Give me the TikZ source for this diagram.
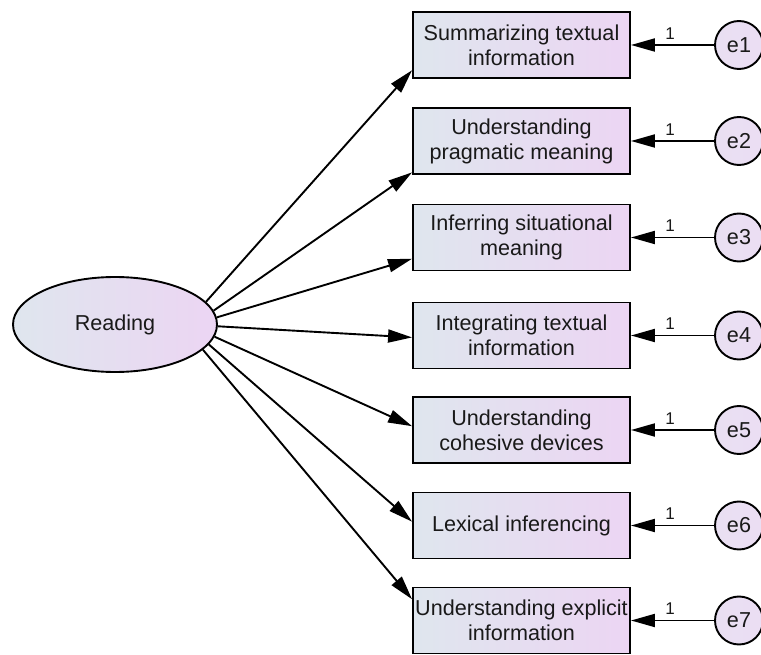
\documentclass[tikz,border=0pt]{standalone}
\usepackage{fontspec}
\setmainfont{Liberation Sans}
\usetikzlibrary{shapes.geometric,arrows.meta}
\definecolor{shL}{RGB}{223,230,238}
\definecolor{shR}{RGB}{236,213,243}
\definecolor{cfill}{RGB}{235,222,243}
\definecolor{txt}{RGB}{25,25,25}
\begin{document}
\begin{tikzpicture}[x=1pt,y=-1pt,
  obs/.style={draw=black, line width=1.9pt, rectangle, minimum width=217pt, minimum height=66pt,
    inner sep=0pt, left color=shL, right color=shR, align=center, text=txt,
    font=\fontsize{21.6}{25}\selectfont},
  lat/.style={draw=black, line width=1.9pt, ellipse, minimum width=204pt, minimum height=95pt,
    inner sep=0pt, left color=shL, right color=shR, text=txt, font=\fontsize{21.6}{25}\selectfont},
  err/.style={draw=black, line width=1.9pt, circle, minimum size=48pt, inner sep=0pt,
    left color=cfill!85!shL, right color=cfill, text=txt, font=\fontsize{21.6}{25}\selectfont},
  arr/.style={line width=1.9pt, -{Triangle[length=24pt,width=13pt]}},
  wt/.style={font=\fontsize{17}{19}\selectfont, text=txt, inner sep=1pt, above=4pt, pos=0.53}
]
\useasboundingbox (0,0) rectangle (761,655);

\node[lat] (R) at (115,324.5) {Reading};

\node[obs] (b1) at (521.5,45) {Summarizing textual\\information};
\node[obs] (b2) at (521.5,141) {Understanding\\pragmatic meaning};
\node[obs] (b3) at (521.5,237.5) {Inferring situational\\meaning};
\node[obs] (b4) at (521.5,335.5) {Integrating textual\\information};
\node[obs] (b5) at (521.5,430) {Understanding\\cohesive devices};
\node[obs] (b6) at (521.5,525.5) {Lexical inferencing};
\node[obs] (b7) at (521.5,620.5) {Understanding explicit\\information};

\node[err] (e1) at (739,45) {e1};
\node[err] (e2) at (739,141) {e2};
\node[err] (e3) at (739,237.5) {e3};
\node[err] (e4) at (739,335.5) {e4};
\node[err] (e5) at (739,430) {e5};
\node[err] (e6) at (739,525.5) {e6};
\node[err] (e7) at (739,620.5) {e7};

\draw[arr] (R.14) -- (b1.193);
\draw[arr] (R.8) -- (b2.196);
\draw[arr] (R.4) -- (b3.191);
\draw[arr] (R.359) -- (b4.181);
\draw[arr] (R.353) -- (b5.178);
\draw[arr] (R.348) -- (b6.178);
\draw[arr] (R.344) -- (b7.169);

\foreach \i in {1,...,7}{
  \draw[arr] (e\i) -- node[wt]{1} (b\i);
}
\end{tikzpicture}
\end{document}
